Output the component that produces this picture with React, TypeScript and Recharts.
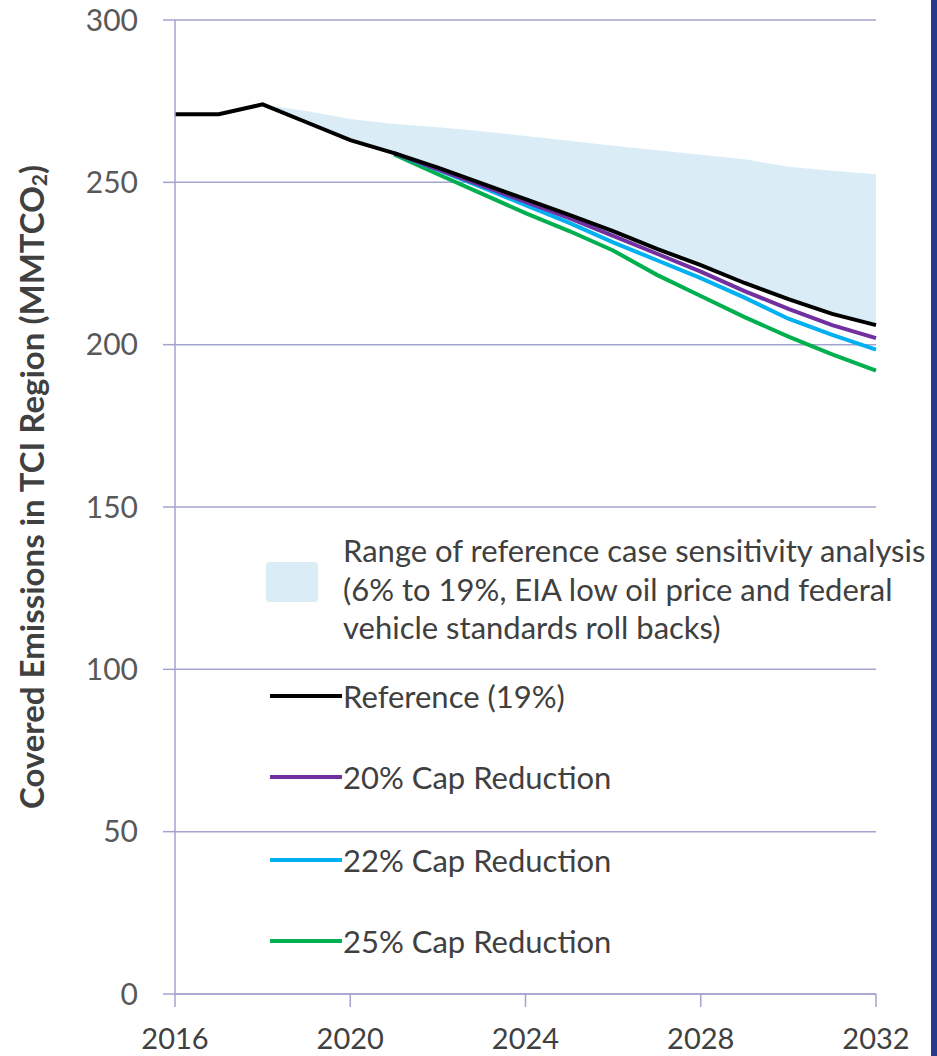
import React from 'react';
import { ComposedChart, Line, Area, XAxis, YAxis, CartesianGrid } from 'recharts';

// values (MMTCO2)
const years = [2016, 2017, 2018, 2019, 2020, 2021, 2022, 2023, 2024, 2025, 2026, 2027, 2028, 2029, 2030, 2031, 2032];
const reference = [271, 271, 274, 268.5, 263, 259, 254.5, 249.7, 244.8, 240, 235, 229.5, 224.5, 219, 214, 209.5, 206];
const cap20 = [null, null, null, null, null, 259, 254, 249, 244, 239, 233.5, 228, 222.5, 216.5, 211, 206, 202];
const cap22 = [null, null, null, null, null, 259, 253.8, 248.5, 243, 237.5, 231.5, 226, 220.5, 214.5, 208, 203, 198.5];
const cap25 = [null, null, null, null, null, 258.6, 252.5, 246.5, 240.5, 235, 229, 221.5, 215, 208.5, 202.5, 197, 192];
const rangeHigh = [null, null, 274, 272, 269.5, 268, 267, 265.7, 264.3, 262.8, 261.3, 259.9, 258.5, 257.1, 254.8, 253.6, 252.5];

const xTicks = [2016, 2020, 2024, 2028, 2032];
const yTicks = [0, 50, 100, 150, 200, 250, 300];

const GRID = '#A3A3CF';
const TEXT = '#404040';
const BAND = '#DAEDF7';

const series = [
  { key: 'reference', name: 'Reference (19%)', color: '#000000' },
  { key: 'cap20', name: '20% Cap Reduction', color: '#7030A0' },
  { key: 'cap22', name: '22% Cap Reduction', color: '#00B0F0' },
  { key: 'cap25', name: '25% Cap Reduction', color: '#00B050' },
];
const bandLabel = [
  'Range of reference case sensitivity analysis',
  '(6% to 19%, EIA low oil price and federal',
  'vehicle standards roll backs)',
];

const chartData = years.map((year, i) => ({
  year,
  reference: reference[i],
  cap20: cap20[i],
  cap22: cap22[i],
  cap25: cap25[i],
  band: rangeHigh[i] === null ? null : [reference[i], rangeHigh[i]],
}));

const YLabel = ({ viewBox }: any) => {
  const cx = 31;
  const cy = viewBox.y + viewBox.height / 2 - 20;
  return (
    <text
      x={cx}
      y={cy}
      transform={`rotate(-90, ${cx}, ${cy})`}
      textAnchor="middle"
      dominantBaseline="central"
      fill={TEXT}
      style={{ fontFamily: 'Lato', fontWeight: 700, fontSize: 33 }}
    >
      Covered Emissions in TCI Region (MMTCO
      <tspan dy={7} fontSize={21}>2</tspan>
      <tspan dy={-7}>)</tspan>
    </text>
  );
};

export default function App() {
  const legendTops = [696, 777, 860, 941];
  return (
    <div style={{ position: 'absolute', left: 0, top: 0, width: 937, height: 1056, background: '#fff', overflow: 'hidden' }}>
      <ComposedChart width={937} height={1056} data={chartData} margin={{ top: 20, right: 61, left: 75, bottom: 0 }}>
        <CartesianGrid vertical={false} stroke={GRID} strokeWidth={1.5} />
        <XAxis
          dataKey="year"
          type="number"
          domain={[2016, 2032]}
          ticks={xTicks}
          height={62}
          stroke={GRID}
          strokeWidth={1.5}
          tickSize={13}
          tickMargin={21}
          tick={{ fill: TEXT, fontSize: 29, fontFamily: 'Lato' }}
        />
        <YAxis
          domain={[0, 300]}
          ticks={yTicks}
          width={100}
          stroke={GRID}
          strokeWidth={1.5}
          tickSize={12}
          tickMargin={25}
          tick={{ fill: '#595959', fontSize: 30, fontFamily: 'Lato' }}
          label={{ content: <YLabel /> }}
        />
        <Area dataKey="band" stroke="none" fill={BAND} fillOpacity={1} isAnimationActive={false} activeDot={false} />
        {series
          .slice()
          .reverse()
          .map((s) => (
            <Line
              key={s.key}
              dataKey={s.key}
              stroke={s.color}
              strokeWidth={4}
              dot={false}
              type="linear"
              isAnimationActive={false}
            />
          ))}
      </ComposedChart>

      {/* legend */}
      <div style={{ position: 'absolute', left: 266, top: 562, width: 52, height: 40, background: BAND, borderRadius: 4 }} />
      {bandLabel.map((line, i) => (
        <div
          key={line}
          style={{
            position: 'absolute',
            left: 343,
            top: 550 + i * 38.5 - 20,
            height: 40,
            lineHeight: '40px',
            fontFamily: 'Lato',
            fontSize: 31,
            color: TEXT,
            whiteSpace: 'nowrap',
          }}
        >
          {line}
        </div>
      ))}
      {series.map((s, i) => (
        <div key={s.key} style={{ position: 'absolute', left: 270, top: legendTops[i] - 20, height: 40, display: 'flex', alignItems: 'center' }}>
          <div style={{ width: 72, height: 4, background: s.color }} />
          <span style={{ fontFamily: 'Lato', fontSize: 31, color: TEXT, whiteSpace: 'nowrap', marginLeft: 1 }}>{s.name}</span>
        </div>
      ))}

      {/* dark blue frame edge on the right */}
      <div style={{ position: 'absolute', left: 931, top: 0, width: 6, height: 1056, background: '#233A8E' }} />
    </div>
  );
}
